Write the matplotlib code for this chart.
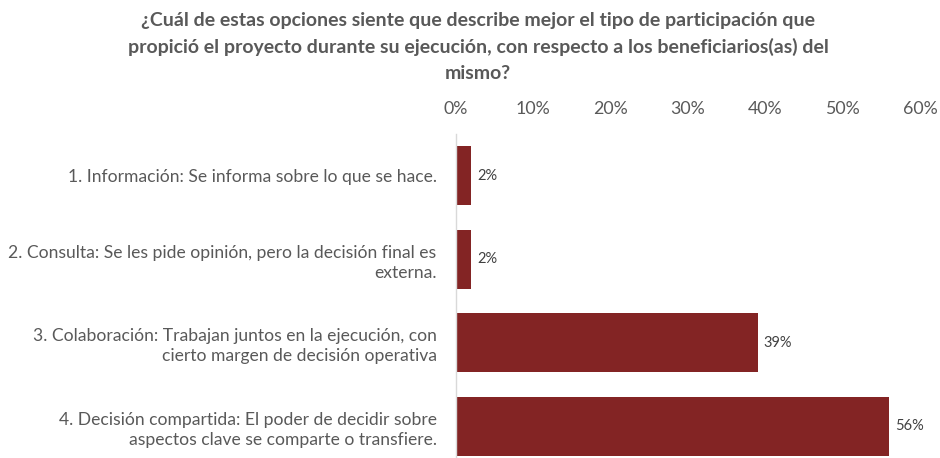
import matplotlib
matplotlib.use("Agg")
import matplotlib.pyplot as plt

# respuestas (porcentaje de encuestados)
categorias = [
    "1. Información: Se informa sobre lo que se hace.",
    "2. Consulta: Se les pide opinión, pero la decisión final es\nexterna.",
    "3. Colaboración: Trabajan juntos en la ejecución, con\ncierto margen de decisión operativa",
    "4. Decisión compartida: El poder de decidir sobre\naspectos clave se comparte o transfiere.",
]
valores = [2, 2, 39, 56]
ticks = [0, 10, 20, 30, 40, 50, 60]

titulo = ("¿Cuál de estas opciones siente que describe mejor el tipo de participación que\n"
          "propició el proyecto durante su ejecución, con respecto a los beneficiarios(as) del\n"
          "mismo?")

plt.rcParams["font.family"] = ["Lato", "DejaVu Sans"]
GRIS = "#595959"
BARRA = "#832424"

W, H = 940, 458
fig = plt.figure(figsize=(W / 100, H / 100), dpi=100)
# ejes en pixeles: x de 456 a 920, y de 134 a 468 (la ultima banda queda cortada)
ax = fig.add_axes([456 / W, (H - 468) / H, (920 - 456) / W, (468 - 134) / H])

pos = list(range(len(valores)))
ax.barh(pos, valores, height=0.71, color=BARRA)
ax.set_ylim(len(valores) - 0.5, -0.5)
ax.set_xlim(0, 60)

ax.set_yticks(pos)
ax.set_yticklabels(categorias, fontsize=12.6, color=GRIS, linespacing=1.3)
ax.tick_params(axis="y", length=0, pad=14)

ax.xaxis.tick_top()
ax.set_xticks(ticks)
ax.set_xticklabels(["%d%%" % t for t in ticks], fontsize=12.8, color=GRIS)
ax.tick_params(axis="x", length=0, pad=12)

for s in ("top", "right", "bottom"):
    ax.spines[s].set_visible(False)
ax.spines["left"].set_color("#d9d9d9")
ax.spines["left"].set_linewidth(1)

for p, v in zip(pos, valores):
    ax.text(v + 0.8, p, "%d%%" % v, va="center", ha="left",
            fontsize=10.5, color="#404040")

fig.text(478 / W, 1 - 12 / H, titulo, ha="center", va="top",
         fontsize=14, fontweight="bold", color=GRIS, linespacing=1.6)

fig.savefig("out.png", dpi=100)
